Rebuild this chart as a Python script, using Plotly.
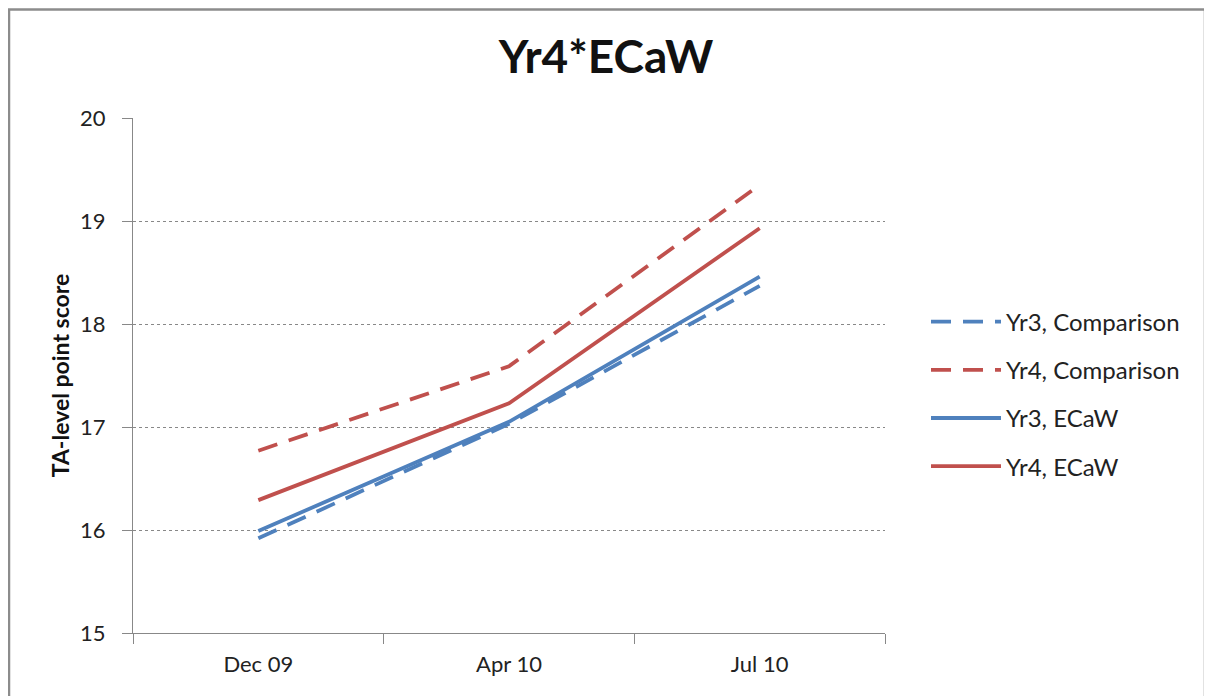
import plotly.graph_objects as go

# data
periods = ["Dec 09", "Apr 10", "Jul 10"]
yr3_comparison = [15.92, 17.03, 18.37]
yr4_comparison = [16.77, 17.59, 19.35]
yr3_ecaw = [15.99, 17.05, 18.46]
yr4_ecaw = [16.29, 17.23, 18.93]

BLUE = "#4F81BD"
RED = "#C0504D"
FONT = "Lato"

# page has an 8px body margin, so the figure is drawn 8px in
W, H = 1204, 688
L, R, T, B = 125, 327, 110, 63
PW, PH = W - L - R, H - T - B

series = [
    ("Yr3, Comparison", yr3_comparison, BLUE, "20px,12px"),
    ("Yr4, Comparison", yr4_comparison, RED, "20px,12px"),
    ("Yr3, ECaW", yr3_ecaw, BLUE, "solid"),
    ("Yr4, ECaW", yr4_ecaw, RED, "solid"),
]

fig = go.Figure()
for name, vals, color, dash in series:
    fig.add_trace(go.Scatter(x=periods, y=vals, mode="lines", name=name,
                             legendgroup=name,
                             line=dict(color=color, width=3.8, dash=dash)))

fig.update_layout(
    width=W, height=H,
    margin=dict(l=L, r=R, t=T, b=B),
    paper_bgcolor="white", plot_bgcolor="white",
    font=dict(family=FONT, size=21, color="#222"),
    title=dict(text="<b>Yr4*ECaW</b>", x=(598 - L) / PW, xref="paper",
               xanchor="center", y=1 - 49 / H, yanchor="middle",
               font=dict(family=FONT, size=46, color="#111")),
    legend=dict(x=(918 - L) / PW, xanchor="left", y=(T + PH - 386) / PH, yanchor="middle",
                traceorder="grouped", tracegroupgap=14, itemwidth=70,
                font=dict(family=FONT, size=24, color="#222"),
                bgcolor="rgba(0,0,0,0)"),
    showlegend=True,
)

fig.update_xaxes(
    type="category", range=[-0.5, 2.5], tickson="boundaries",
    showline=True, linecolor="#888", linewidth=1,
    ticks="outside", ticklen=10, tickcolor="#888",
    showgrid=False, tickfont=dict(size=22), ticklabelstandoff=12,
)
fig.update_yaxes(
    range=[15, 20], dtick=1, tick0=15,
    showline=True, linecolor="#888", linewidth=1,
    ticks="outside", ticklen=10, tickcolor="#888",
    showgrid=True, gridcolor="#888", griddash="3px,3px", gridwidth=1,
    zeroline=False, ticklabelstandoff=12,
    title=dict(text="<b>TA-level point score</b>", standoff=4,
               font=dict(family=FONT, size=23, color="#111")),
    tickfont=dict(size=22),
)

# outer chart frame
fig.add_shape(type="rect", xref="paper", yref="paper",
              x0=(1 - L) / PW, x1=(1197 - L) / PW,
              y0=(T + PH - 700) / PH, y1=(T + PH - 1.5) / PH,
              line=dict(color="#8c8c8c", width=2.5), layer="below")

fig.write_html("out.html")
